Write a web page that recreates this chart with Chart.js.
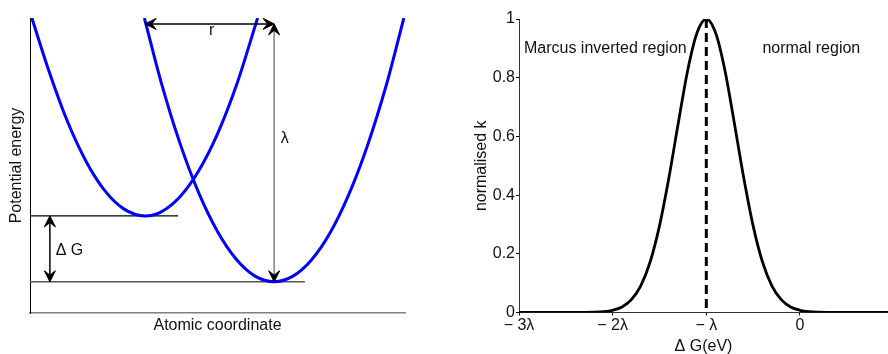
<!DOCTYPE html>
<html>
<head>
<meta charset="utf-8">
<script src="https://cdn.jsdelivr.net/npm/chart.js@4/dist/chart.umd.min.js"></script>
<style>
  html, body { margin: 0; padding: 0; background: #fff; width: 888px; height: 354px; overflow: hidden; }
  #wells { position: absolute; left: 0; top: 0; }
  #rate { position: absolute; left: 444px; top: 0; }
</style>
</head>
<body>
<canvas id="wells" width="444" height="354"></canvas>
<canvas id="rate" width="444" height="370"></canvas>
<script>
// 左图：两个势阱（坐标为任意单位，两轴都是 0..1）
const leftWellX = [0.005, 0.05, 0.1, 0.15, 0.2, 0.25, 0.307, 0.35, 0.4, 0.45, 0.5, 0.55, 0.607];
const leftWellY = [1.0, 0.822, 0.649, 0.513, 0.414, 0.353, 0.329, 0.343, 0.394, 0.482, 0.607, 0.770, 1.0];
const rightWellX = [0.305, 0.35, 0.4, 0.45, 0.5, 0.55, 0.6, 0.651, 0.7, 0.75, 0.8, 0.85, 0.9, 0.95, 0.997];
const rightWellY = [1.0, 0.781, 0.575, 0.407, 0.276, 0.182, 0.125, 0.106, 0.124, 0.179, 0.271, 0.401, 0.568, 0.772, 1.0];

// 两条能级线：高度和右端
const levelY = [0.329, 0.106];
const levelEndX = [0.395, 0.733];

// 双向箭头 ΔG、λ、r
const arrowFrom = [[0.053, 0.329], [0.651, 0.98], [0.307, 0.98]];
const arrowTo = [[0.053, 0.106], [0.651, 0.106], [0.651, 0.98]];
const arrowLabels = ['Δ G', 'λ', 'r'];
const arrowLabelAt = [[0.0685, 0.197], [0.679, 0.577], [0.4845, 0.942]];

// 右图：归一化速率 vs ΔG（单位 λ）
const dG = [-3, -2.5, -2.3, -2.2, -2.1, -2.0, -1.9, -1.8, -1.7, -1.6, -1.5, -1.4, -1.3, -1.2, -1.1, -1.0,
            -0.9, -0.8, -0.7, -0.6, -0.5, -0.4, -0.3, -0.2, -0.1, 0, 0.1, 0.2, 0.3, 0.5, 0.94];
const rateK = [0, 0, 0.0003, 0.0009, 0.0027, 0.0076, 0.019, 0.044, 0.091, 0.172, 0.295, 0.458, 0.644, 0.823, 0.952, 1.0,
               0.952, 0.823, 0.644, 0.458, 0.295, 0.172, 0.091, 0.044, 0.019, 0.0076, 0.0027, 0.0009, 0.0003, 0, 0];
const peakLineX = [-1, -1];
const peakLineY = [1, 0];
const xTickValues = [-3, -2, -1, 0];
const xTickLabels = ['− 3λ', '− 2λ', '− λ', '0'];
const yTickValues = [0, 0.2, 0.4, 0.6, 0.8, 1];
const yTickLabels = ['0', '0.2', '0.4', '0.6', '0.8', '1'];
const regionLabels = ['Marcus inverted region', 'normal region'];
const regionLabelAt = [[-2.947, 0.884], [-0.401, 0.884]];

Chart.defaults.font.family = '"Liberation Sans", Arial, Helvetica, sans-serif';
Chart.defaults.font.size = 16;
Chart.defaults.color = '#000';

const toPoints = (xs, ys) => xs.map((v, i) => ({ x: v, y: ys[i] }));

function arrowHead(ctx, tx, ty, angle) {
    const L = 11, W = 5.5;
    ctx.save();
    ctx.translate(tx, ty);
    ctx.rotate(angle);
    ctx.beginPath();
    ctx.moveTo(0, 0);
    ctx.lineTo(-L, W);
    ctx.lineTo(-L * 0.6, 0);
    ctx.lineTo(-L, -W);
    ctx.closePath();
    ctx.fill();
    ctx.lineWidth = 1;
    ctx.strokeStyle = '#000';
    ctx.stroke();
    ctx.restore();
}

// 箭头和标注
const wellMarks = {
    id: 'wellMarks',
    afterDatasetsDraw(chart) {
        const { ctx, scales: { x, y } } = chart;
        const lineColors = ['#000', '#808080', '#000'];
        ctx.save();
        arrowFrom.forEach((from, i) => {
            const x0 = x.getPixelForValue(from[0]), y0 = y.getPixelForValue(from[1]);
            const x1 = x.getPixelForValue(arrowTo[i][0]), y1 = y.getPixelForValue(arrowTo[i][1]);
            ctx.strokeStyle = lineColors[i];
            ctx.lineWidth = 1.5;
            ctx.beginPath();
            ctx.moveTo(x0, y0);
            ctx.lineTo(x1, y1);
            ctx.stroke();
            ctx.fillStyle = '#000';
            const a = Math.atan2(y1 - y0, x1 - x0);
            arrowHead(ctx, x1, y1, a);
            arrowHead(ctx, x0, y0, a + Math.PI);
        });
        ctx.fillStyle = '#111';
        ctx.font = '16px "Liberation Sans", Arial, sans-serif';
        ctx.textBaseline = 'alphabetic';
        arrowLabels.forEach((t, i) => {
            ctx.textAlign = i === 0 ? 'left' : 'center';
            ctx.fillText(t, x.getPixelForValue(arrowLabelAt[i][0]), y.getPixelForValue(arrowLabelAt[i][1]));
        });
        ctx.restore();
    }
};

new Chart(document.getElementById('wells'), {
    type: 'scatter',
    data: {
        datasets: [
            { data: toPoints(leftWellX, leftWellY), borderColor: '#0000ff', borderWidth: 3 },
            { data: toPoints(rightWellX, rightWellY), borderColor: '#0000ff', borderWidth: 3 },
            { data: toPoints([0, levelEndX[0]], [levelY[0], levelY[0]]), borderColor: '#000', borderWidth: 1.2, cubicInterpolationMode: 'default', tension: 0 },
            { data: toPoints([0, levelEndX[1]], [levelY[1], levelY[1]]), borderColor: '#555', borderWidth: 1.3, cubicInterpolationMode: 'default', tension: 0 }
        ]
    },
    options: {
        responsive: false,
        animation: false,
        showLine: true,
        elements: { point: { radius: 0 }, line: { cubicInterpolationMode: 'monotone' } },
        layout: { padding: { left: 7.4, top: 18, right: 39, bottom: 14.7 } },
        plugins: { legend: { display: false }, tooltip: { enabled: false } },
        scales: {
            x: {
                min: 0, max: 1,
                ticks: { display: false },
                grid: { display: false, drawTicks: false },
                border: { display: true, color: '#808080', width: 1.5 },
                title: { display: true, text: 'Atomic coordinate', color: '#111', padding: { top: 3.1, bottom: 4 } }
            },
            y: {
                min: 0, max: 1,
                ticks: { display: false },
                grid: { display: false, drawTicks: false },
                border: { display: true, color: '#000', width: 1 },
                title: { display: true, text: 'Potential energy', color: '#111', padding: { top: 0, bottom: 3.4 } }
            }
        }
    },
    plugins: [wellMarks]
});

// 区域文字
const regionText = {
    id: 'regionText',
    afterDatasetsDraw(chart) {
        const { ctx, scales: { x, y } } = chart;
        ctx.save();
        ctx.fillStyle = '#111';
        ctx.font = '16px "Liberation Sans", Arial, sans-serif';
        ctx.textAlign = 'left';
        ctx.textBaseline = 'alphabetic';
        regionLabels.forEach((t, i) => {
            ctx.fillText(t, x.getPixelForValue(regionLabelAt[i][0]), y.getPixelForValue(regionLabelAt[i][1]));
        });
        ctx.restore();
    }
};

new Chart(document.getElementById('rate'), {
    type: 'scatter',
    data: {
        datasets: [
            { data: toPoints(dG, rateK), borderColor: '#000', borderWidth: 2.8, cubicInterpolationMode: 'monotone' },
            { data: toPoints(peakLineX, peakLineY), borderColor: '#000', borderWidth: 3, borderDash: [9, 5], borderCapStyle: 'butt' }
        ]
    },
    options: {
        responsive: false,
        animation: false,
        showLine: true,
        elements: { point: { radius: 0 } },
        layout: { padding: { left: 28.4, top: 19, right: 0, bottom: 9.9 } },
        plugins: { legend: { display: false }, tooltip: { enabled: false } },
        scales: {
            x: {
                min: -3, max: 0.94,
                afterBuildTicks: scale => { scale.ticks = xTickValues.map(v => ({ value: v })); },
                ticks: {
                    color: '#111', padding: 0.5, maxRotation: 0, autoSkip: false,
                    callback: v => xTickLabels[xTickValues.indexOf(v)]
                },
                grid: { display: true, drawOnChartArea: false, drawTicks: true, tickLength: 3, color: '#000' },
                border: { display: true, color: '#333', width: 1 },
                title: { display: true, text: 'Δ G(eV)', color: '#111', padding: { top: 1.2, bottom: 4 } }
            },
            y: {
                min: 0, max: 1,
                afterBuildTicks: scale => { scale.ticks = yTickValues.map(v => ({ value: v })); },
                ticks: {
                    color: '#111', padding: 1, autoSkip: false,
                    callback: v => yTickLabels[yTickValues.indexOf(v)]
                },
                grid: { display: true, drawOnChartArea: false, drawTicks: true, tickLength: 3, color: '#000' },
                border: { display: true, color: '#333', width: 1 },
                title: { display: true, text: 'normalised k', color: '#111', padding: { top: 0, bottom: 0.16 } }
            }
        }
    },
    plugins: [regionText]
});
</script>
</body>
</html>
